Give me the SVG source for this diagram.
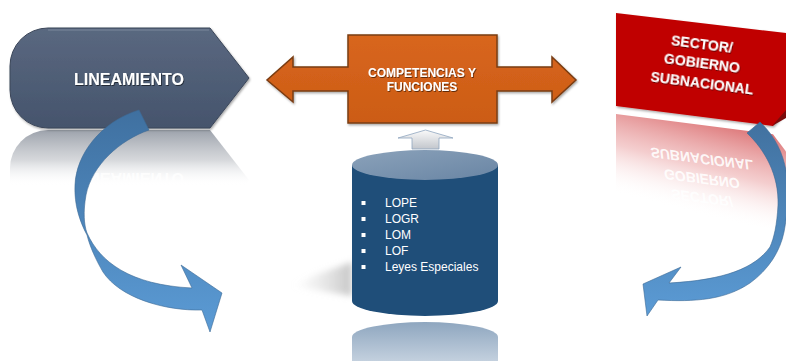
<svg xmlns="http://www.w3.org/2000/svg" width="786" height="361" viewBox="0 0 786 361">
<defs>
<style>
.hd{font-family:"Liberation Sans","Noto Sans",Arial,sans-serif;font-weight:bold;fill:#ffffff;text-anchor:middle}
.bl{font-family:"Liberation Sans","Noto Sans",Arial,sans-serif;font-size:12px;fill:#ffffff}
.bu{fill:#ffffff}
</style>
<linearGradient id="gLin" x1="0" y1="0" x2="0" y2="1">
<stop offset="0" stop-color="#5a6880"/>
<stop offset="1" stop-color="#45546c"/>
</linearGradient>
<linearGradient id="gLinR" x1="0" y1="1" x2="0" y2="0">
<stop offset="0" stop-color="#979da7" stop-opacity="0.95"/>
<stop offset="0.3" stop-color="#c4c7cc" stop-opacity="0.7"/>
<stop offset="0.56" stop-color="#ffffff" stop-opacity="0"/>
</linearGradient>
<linearGradient id="gOr" x1="0" y1="0" x2="0" y2="1">
<stop offset="0" stop-color="#d8661d"/>
<stop offset="1" stop-color="#cc5c16"/>
</linearGradient>
<linearGradient id="gRedR" x1="0" y1="1" x2="0" y2="0">
<stop offset="0" stop-color="#d65c5e" stop-opacity="0.85"/>
<stop offset="0.45" stop-color="#eba5a6" stop-opacity="0.55"/>
<stop offset="0.88" stop-color="#ffffff" stop-opacity="0"/>
</linearGradient>
<linearGradient id="gTop" x1="0" y1="0" x2="1" y2="1">
<stop offset="0" stop-color="#8ba2ba"/>
<stop offset="1" stop-color="#6985a4"/>
</linearGradient>
<linearGradient id="gCylR" x1="0" y1="0" x2="0" y2="1">
<stop offset="0" stop-color="#8ea6bf"/>
<stop offset="1" stop-color="#c3d0de"/>
</linearGradient>
<linearGradient id="gShadow" x1="1" y1="0" x2="0" y2="0">
<stop offset="0" stop-color="#b4b4b4" stop-opacity="0.75"/>
<stop offset="1" stop-color="#d8d8d8" stop-opacity="0"/>
</linearGradient>
<linearGradient id="gUp" x1="0" y1="0" x2="0" y2="1">
<stop offset="0" stop-color="#fafafa"/>
<stop offset="1" stop-color="#c2c6cc"/>
</linearGradient>
<linearGradient id="gBlueL" gradientUnits="userSpaceOnUse" x1="0" y1="110" x2="0" y2="330">
<stop offset="0" stop-color="#3f70a0"/>
<stop offset="1" stop-color="#5b9bd5"/>
</linearGradient>
<linearGradient id="gBlueR" gradientUnits="userSpaceOnUse" x1="0" y1="122" x2="0" y2="316">
<stop offset="0" stop-color="#41719f"/>
<stop offset="1" stop-color="#5b9bd5"/>
</linearGradient>
<filter id="ts" x="-10%" y="-30%" width="120%" height="160%">
<feDropShadow dx="0.8" dy="1" stdDeviation="0.6" flood-color="#000000" flood-opacity="0.55"/>
</filter>
<filter id="sh" x="-10%" y="-10%" width="120%" height="130%">
<feDropShadow dx="1" dy="1.5" stdDeviation="1.2" flood-color="#000000" flood-opacity="0.35"/>
</filter>
<filter id="blur" x="-20%" y="-50%" width="140%" height="200%"><feGaussianBlur stdDeviation="3"/></filter>
</defs>
<rect width="786" height="361" fill="#ffffff"/>

<g id="lineamiento">
<g transform="matrix(1,0,0,-1,0,258)">
<path d="M48,28 L210,28 L249,78 L210,128 L48,128 A38,38 0 0 1 10,90 L10,66 A38,38 0 0 1 48,28 Z" fill="url(#gLinR)"/>
<text class="hd" x="129" y="85" font-size="16" fill-opacity="0.85">LINEAMIENTO</text>
</g>
<path d="M48,28 L210,28 L249,78 L210,128 L48,128 A38,38 0 0 1 10,90 L10,66 A38,38 0 0 1 48,28 Z" fill="url(#gLin)" stroke="#3b4659" stroke-width="1" filter="url(#sh)"/>
<path d="M48,30 L209,30" stroke="#8a97aa" stroke-width="1" fill="none" opacity="0.7"/>
<text class="hd" x="129" y="85" font-size="16" filter="url(#ts)">LINEAMIENTO</text>
</g>

<g id="competencias">
<path d="M293,57 L293,67 L348,67 L348,35 L497,35 L497,67 L552,67 L552,57 L576,80 L552,102 L552,91 L497,91 L497,123 L348,123 L348,91 L293,91 L293,102 L267,80 Z" fill="url(#gOr)" stroke="#7a3c12" stroke-width="1.5" filter="url(#sh)"/>
<text class="hd" x="422" y="77" font-size="12" filter="url(#ts)">COMPETENCIAS Y</text>
<text class="hd" x="422" y="91" font-size="12" filter="url(#ts)">FUNCIONES</text>
</g>

<g id="sector">
<g transform="matrix(1,0.256,0,-1,0,62.3)">
<polygon points="616,13 786,33 786,112 773,126 616,106" fill="url(#gRedR)"/>
<g fill-opacity="0.9">
<text class="hd" x="702" y="49" font-size="14" transform="rotate(7.3 702 44)">SECTOR/</text>
<text class="hd" x="702" y="68" font-size="14" transform="rotate(7.3 702 63)">GOBIERNO</text>
<text class="hd" x="702" y="88" font-size="14" transform="rotate(7.3 702 83)">SUBNACIONAL</text>
</g>
</g>
<polygon points="616,13 786,33 786,112 773,126 616,106" fill="#c00000" filter="url(#sh)"/>
<polygon points="772,126 786,110 786,118" fill="#7a0b0b"/>
<text class="hd" x="702" y="49" font-size="14" transform="rotate(7.3 702 44)" filter="url(#ts)">SECTOR/</text>
<text class="hd" x="702" y="68" font-size="14" transform="rotate(7.3 702 63)" filter="url(#ts)">GOBIERNO</text>
<text class="hd" x="702" y="88" font-size="14" transform="rotate(7.3 702 83)" filter="url(#ts)">SUBNACIONAL</text>
</g>

<g id="leyes">
<polygon points="352,262 318,274 292,286 352,296" fill="url(#gShadow)" filter="url(#blur)"/>
<path d="M352,337 A73,15 0 0 1 498,337 L498,361 L352,361 Z" fill="url(#gCylR)"/>
<path d="M352,165 L352,301 A73,15 0 0 0 498,301 L498,165 Z" fill="#1f4e79"/>
<ellipse cx="425" cy="165" rx="73" ry="15" fill="url(#gTop)"/>
<rect class="bu" x="361.5" y="201" width="4" height="4"/>
<rect class="bu" x="361.5" y="217" width="4" height="4"/>
<rect class="bu" x="361.5" y="233" width="4" height="4"/>
<rect class="bu" x="361.5" y="249" width="4" height="4"/>
<rect class="bu" x="361.5" y="265" width="4" height="4"/>
<text class="bl" x="385" y="207">LOPE</text>
<text class="bl" x="385" y="223">LOGR</text>
<text class="bl" x="385" y="239">LOM</text>
<text class="bl" x="385" y="255">LOF</text>
<text class="bl" x="385" y="271">Leyes Especiales</text>
</g>

<g id="connectors">
<path d="M425.5,130 L453,138 L439,138 L439,149 L412,149 L412,138 L398,138 Z" fill="url(#gUp)" stroke="#8fa6bf" stroke-width="0.8"/>
<path d="M139,110 L149,130 C120,140 92,165 86,195 C83,212 84,225 87,233 C100,262 130,285 192,288 L181,265 L222,293 L210,332 L202,310 C165,311 120,298 103,272 C96,260 90,247 87,235 C80,222 74,205 75,185 C76,155 100,122 139,110 Z" fill="url(#gBlueL)" stroke="#3d6a96" stroke-width="0.6"/>
<path d="M760,122 L747,133 C765,150 779,175 778,205 C777,225 774,238 770,247 C755,268 725,280 669,283 L681,267 L643,284 L647,316 L658,300 C695,302 725,300 750,283 C768,270 780,252 784,232 C792,190 790,150 760,122 Z" fill="url(#gBlueR)" stroke="#3d6a96" stroke-width="0.6"/>
</g>
</svg>
